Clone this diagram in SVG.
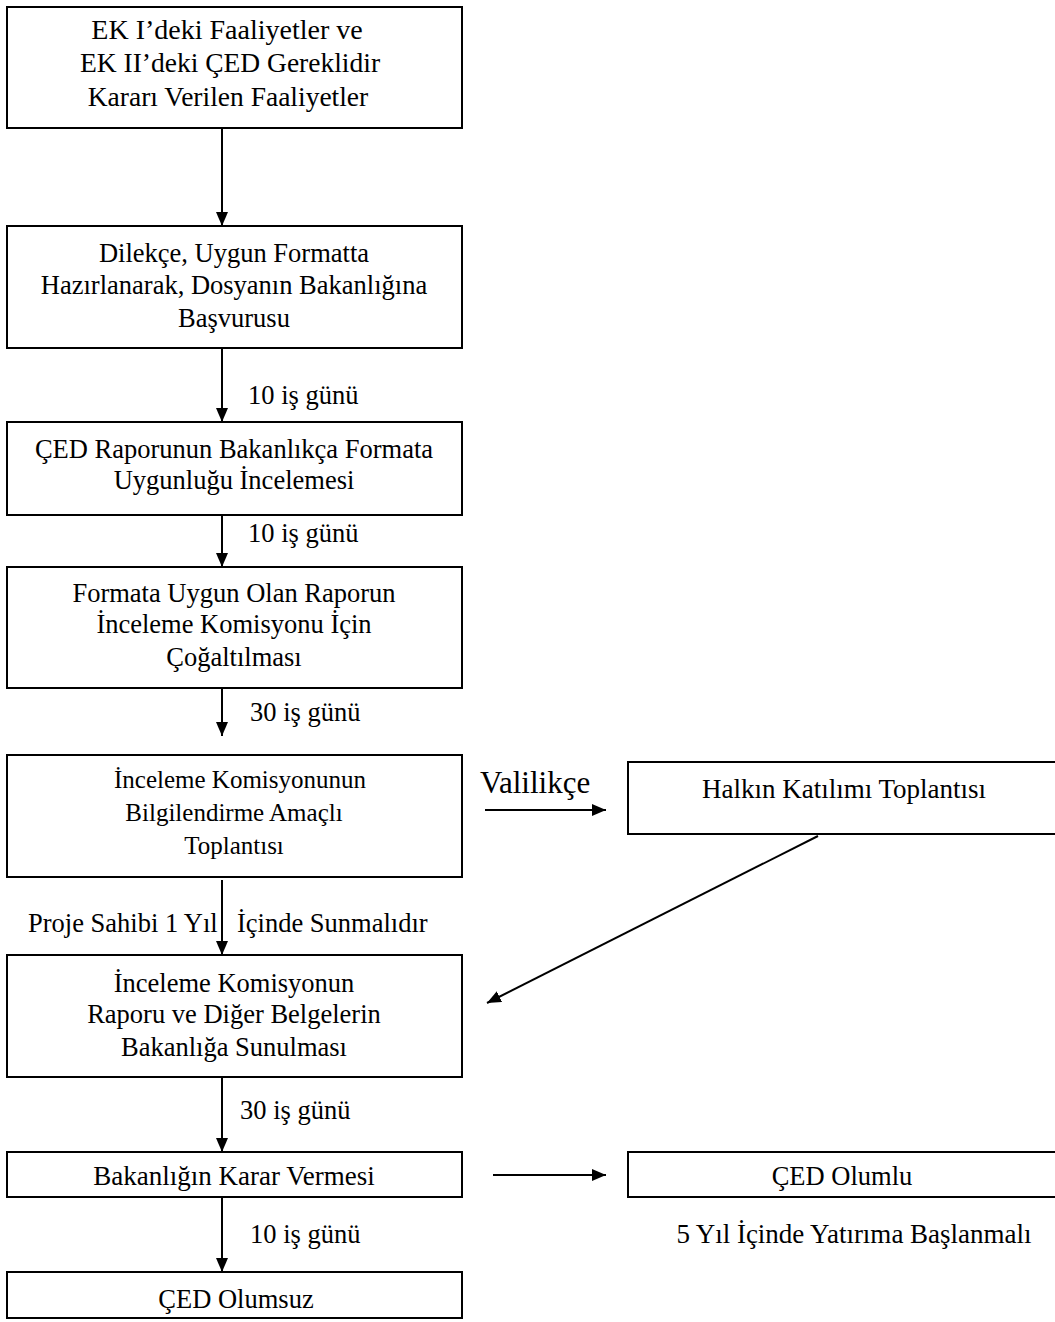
<svg xmlns="http://www.w3.org/2000/svg" width="1055" height="1322" viewBox="0 0 1055 1322">
<style>
.box{fill:#fff;stroke:#000;stroke-width:2}
.t{font-family:"Liberation Serif","Times New Roman",serif;font-size:26.5px;fill:#000;text-anchor:middle}
.l{font-family:"Liberation Serif","Times New Roman",serif;font-size:26.5px;fill:#000}
.c{stroke:#000;stroke-width:2;fill:none;marker-end:url(#ah)}
</style>
<defs>
<marker id="ah" markerUnits="userSpaceOnUse" markerWidth="14" markerHeight="16" refX="14" refY="6" orient="auto">
<path d="M0,0 L14,6 L0,12 Z" fill="#000"/>
</marker>
</defs>
<rect width="1055" height="1322" fill="#fff"/>
<g id="connectors">
<line class="c" x1="222" y1="128" x2="222" y2="226"/>
<line class="c" x1="222" y1="348" x2="222" y2="422"/>
<line class="c" x1="222" y1="515" x2="222" y2="567"/>
<line class="c" x1="222" y1="688" x2="222" y2="736"/>
<line class="c" x1="485" y1="810" x2="606" y2="810"/>
<line class="c" x1="818" y1="836" x2="487" y2="1003"/>
<line class="c" x1="222" y1="880" x2="222" y2="955"/>
<line class="c" x1="222" y1="1077" x2="222" y2="1152"/>
<line class="c" x1="493" y1="1175" x2="606" y2="1175"/>
<line class="c" x1="222" y1="1197" x2="222" y2="1272"/>
<text class="l" x="248" y="404">10 iş günü</text>
<text class="l" x="248" y="542">10 iş günü</text>
<text class="l" x="250" y="721">30 iş günü</text>
<text class="l" x="480" y="793" style="font-size:31px">Valilikçe</text>
<text class="l" x="28" y="932">Proje Sahibi 1 Yıl</text>
<text class="l" x="237" y="932">İçinde Sunmalıdır</text>
<text class="l" x="240" y="1119">30 iş günü</text>
<text class="l" x="250" y="1243">10 iş günü</text>
<text class="t" x="854" y="1243" style="font-size:27px">5 Yıl İçinde Yatırıma Başlanmalı</text>
</g>
<g id="n1">
<rect class="box" x="7" y="7" width="455" height="121"/>
<text class="t" x="227" y="39" style="font-size:28px">EK I’deki Faaliyetler ve</text>
<text class="t" x="230" y="72" style="font-size:27.5px">EK II’deki ÇED Gereklidir</text>
<text class="t" x="228" y="106" style="font-size:27.5px">Kararı Verilen Faaliyetler</text>
</g>
<g id="n2">
<rect class="box" x="7" y="226" width="455" height="122"/>
<text class="t" x="234" y="262">Dilekçe, Uygun Formatta</text>
<text class="t" x="234" y="294">Hazırlanarak, Dosyanın Bakanlığına</text>
<text class="t" x="234" y="327">Başvurusu</text>
</g>
<g id="n3">
<rect class="box" x="7" y="422" width="455" height="93"/>
<text class="t" x="234" y="458">ÇED Raporunun Bakanlıkça Formata</text>
<text class="t" x="234" y="489">Uygunluğu İncelemesi</text>
</g>
<g id="n4">
<rect class="box" x="7" y="567" width="455" height="121"/>
<text class="t" x="234" y="602">Formata Uygun Olan Raporun</text>
<text class="t" x="234" y="633">İnceleme Komisyonu İçin</text>
<text class="t" x="234" y="666">Çoğaltılması</text>
</g>
<g id="n5">
<rect class="box" x="7" y="755" width="455" height="122"/>
<text class="t" x="240" y="788" style="font-size:25px">İnceleme Komisyonunun</text>
<text class="t" x="234" y="821" style="font-size:25px">Bilgilendirme Amaçlı</text>
<text class="t" x="234" y="854" style="font-size:25px">Toplantısı</text>
</g>
<g id="n6">
<rect class="box" x="628" y="762" width="440" height="72"/>
<text class="t" x="844" y="798" style="font-size:27px">Halkın Katılımı Toplantısı</text>
</g>
<g id="n7">
<rect class="box" x="7" y="955" width="455" height="122"/>
<text class="t" x="234" y="992">İnceleme Komisyonun</text>
<text class="t" x="234" y="1023">Raporu ve Diğer Belgelerin</text>
<text class="t" x="234" y="1056">Bakanlığa Sunulması</text>
</g>
<g id="n8">
<rect class="box" x="7" y="1152" width="455" height="45"/>
<text class="t" x="234" y="1185" style="font-size:27px">Bakanlığın Karar Vermesi</text>
</g>
<g id="n9">
<rect class="box" x="628" y="1152" width="440" height="45"/>
<text class="t" x="842" y="1185">ÇED Olumlu</text>
</g>
<g id="n10">
<rect class="box" x="7" y="1272" width="455" height="46"/>
<text class="t" x="236" y="1308">ÇED Olumsuz</text>
</g>
</svg>
